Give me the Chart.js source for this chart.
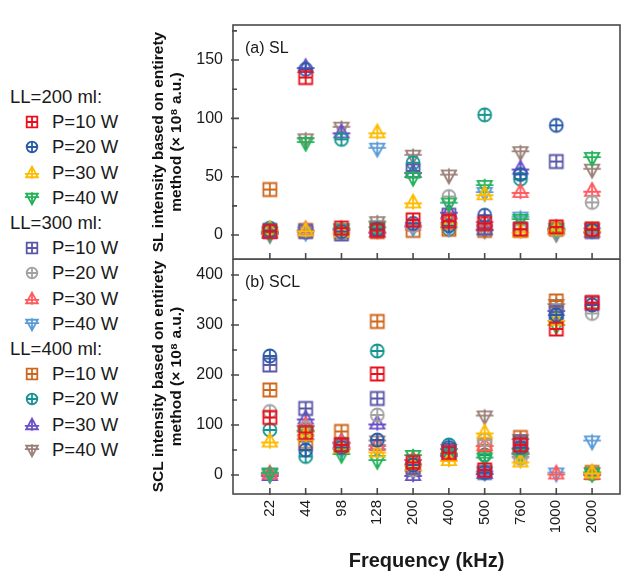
<!DOCTYPE html>
<html>
<head>
<meta charset="utf-8">
<script src="https://cdn.jsdelivr.net/npm/chart.js@4.4.1/dist/chart.umd.min.js"></script>
<style>
  body { margin: 0; background: #fff; width: 621px; height: 573px; position: relative; overflow: hidden;
         font-family: "Liberation Sans", Arial, sans-serif; color: #1a1a1a; }
  #chartSL { position: absolute; left: 149px; top: 0; }
  #chartSCL { position: absolute; left: 149px; top: 259px; }
  .lg { position: absolute; font-size: 18.5px; line-height: 22px; white-space: nowrap; }
  #legend canvas { position: absolute; }
</style>
</head>
<body>
<div id="legend"></div>
<canvas id="chartSL" width="472" height="260"></canvas>
<canvas id="chartSCL" width="472" height="314"></canvas>
<script>
var freqLabels = ['22', '44', '98', '128', '200', '400', '500', '760', '1000', '2000'];
var liquidLevels = ['LL=200 ml:', 'LL=300 ml:', 'LL=400 ml:'];
var powers = ['P=10 W', 'P=20 W', 'P=30 W', 'P=40 W'];

// SL intensity (x 10^8 a.u.)
var slL200P10 = [3, 135, 6, 4, 13, 12, 10, 5, 7, 5];
var slL200P20 = [4, 142, 3, 5, 10, 8, 17, 52, 94, 4];
var slL200P30 = [5, 4, 3, 88, 28, 10, 35, 3, 5, 4];
var slL200P40 = [2, 79, 5, 6, 49, 27, 42, 13, 5, 66];
var slL300P10 = [4, 3, 1, 5, 55, 17, 6, 5, 63, 3];
var slL300P20 = [3, 4, 2, 7, 8, 33, 6, 4, 4, 28];
var slL300P30 = [3, 5, 5, 3, 9, 15, 12, 37, 6, 38];
var slL300P40 = [2, 2, 4, 74, 6, 6, 36, 15, 3, 5];
var slL400P10 = [39, 4, 3, 3, 4, 5, 4, 4, 5, 5];
var slL400P20 = [6, 3, 82, 4, 62, 5, 103, 48, 5, 4];
var slL400P30 = [2, 144, 88, 3, 54, 20, 5, 57, 5, 3];
var slL400P40 = [0, 82, 92, 11, 68, 51, 4, 71, 1, 56];

// SCL intensity (x 10^8 a.u.)
var sclL200P10 = [115, 85, 60, 202, 25, 45, 10, 60, 292, 345];
var sclL200P20 = [238, 50, 55, 70, 20, 55, 5, 55, 320, 340];
var sclL200P30 = [67, 80, 55, 47, 20, 30, 85, 27, 310, 5];
var sclL200P40 = [3, 85, 40, 28, 38, 40, 33, 40, 298, 3];
var sclL300P10 = [220, 133, 60, 153, 15, 50, 5, 65, 325, 343];
var sclL300P20 = [127, 95, 55, 120, 10, 45, 70, 33, 330, 323];
var sclL300P30 = [3, 100, 65, 60, 32, 45, 60, 45, 3, 3];
var sclL300P40 = [2, 70, 50, 50, 20, 50, 5, 35, 3, 67];
var sclL400P10 = [170, 67, 87, 307, 15, 45, 60, 75, 348, 5];
var sclL400P20 = [90, 37, 60, 248, 25, 60, 40, 50, 315, 3];
var sclL400P30 = [0, 113, 67, 103, 0, 40, 4, 55, 330, 2];
var sclL400P40 = [0, 87, 53, 67, 7, 50, 117, 70, 340, 3];

var shapes = ['square', 'circle', 'triUp', 'triDown'];
var colors = [
    ['#e8101a', '#2a5ba8', '#ffbb00', '#22b35a'],
    ['#5a57a8', '#a2a2a2', '#ff5a5f', '#5b9bd5'],
    ['#d0661a', '#15958f', '#6a50c8', '#9b8078']
];
var slSeries = [slL200P10, slL200P20, slL200P30, slL200P40, slL300P10, slL300P20,
    slL300P30, slL300P40, slL400P10, slL400P20, slL400P30, slL400P40];
var sclSeries = [sclL200P10, sclL200P20, sclL200P30, sclL200P40, sclL300P10, sclL300P20,
    sclL300P30, sclL300P40, sclL400P10, sclL400P20, sclL400P30, sclL400P40];

// marker: outline shape with a cross through it
function drawMarker(ctx, shape, color, cx, cy, s) {
    ctx.save();
    ctx.strokeStyle = color;
    ctx.lineWidth = 1.8;
    ctx.beginPath();
    if (shape == 'square') {
        ctx.rect(cx - s, cy - s, 2 * s, 2 * s);
        ctx.moveTo(cx, cy - s); ctx.lineTo(cx, cy + s);
        ctx.moveTo(cx - s, cy); ctx.lineTo(cx + s, cy);
    } else if (shape == 'circle') {
        ctx.arc(cx, cy, s, 0, Math.PI * 2);
        ctx.moveTo(cx, cy - s); ctx.lineTo(cx, cy + s);
        ctx.moveTo(cx - s, cy); ctx.lineTo(cx + s, cy);
    } else if (shape == 'triUp') {
        ctx.moveTo(cx, cy - 1.2 * s);
        ctx.lineTo(cx + 1.1 * s, cy + 0.8 * s);
        ctx.lineTo(cx - 1.1 * s, cy + 0.8 * s);
        ctx.closePath();
        ctx.moveTo(cx, cy - 1.2 * s); ctx.lineTo(cx, cy + 1.1 * s);
        ctx.moveTo(cx - 1.35 * s, cy + 0.15 * s); ctx.lineTo(cx + 1.35 * s, cy + 0.15 * s);
    } else {
        ctx.moveTo(cx - 1.1 * s, cy - 0.8 * s);
        ctx.lineTo(cx + 1.1 * s, cy - 0.8 * s);
        ctx.lineTo(cx, cy + 1.2 * s);
        ctx.closePath();
        ctx.moveTo(cx, cy - 1.1 * s); ctx.lineTo(cx, cy + 1.2 * s);
        ctx.moveTo(cx - 1.35 * s, cy - 0.15 * s); ctx.lineTo(cx + 1.35 * s, cy - 0.15 * s);
    }
    ctx.stroke();
    ctx.restore();
}

function markerImage(shape, color) {
    var c = document.createElement('canvas');
    c.width = 24; c.height = 24;
    drawMarker(c.getContext('2d'), shape, color, 12, 12, 6.5);
    return c;
}

// legend on the left
var legend = document.getElementById('legend');
var rowY = 97, rowH = 25.2;
liquidLevels.forEach(function (ll, g) {
    var hd = document.createElement('div');
    hd.className = 'lg';
    hd.style.left = '10px';
    hd.style.top = (rowY - 11) + 'px';
    hd.textContent = ll;
    legend.appendChild(hd);
    rowY += rowH;
    powers.forEach(function (p, k) {
        var c = document.createElement('canvas');
        c.width = 22; c.height = 22;
        c.style.left = '21px';
        c.style.top = (rowY - 11) + 'px';
        drawMarker(c.getContext('2d'), shapes[k], colors[g][k], 11, 11, 5.3);
        legend.appendChild(c);
        var t = document.createElement('div');
        t.className = 'lg';
        t.style.left = '52px';
        t.style.top = (rowY - 11) + 'px';
        t.textContent = p;
        legend.appendChild(t);
        rowY += rowH;
    });
});

function buildDatasets(seriesList) {
    var sets = [];
    seriesList.forEach(function (vals, i) {
        var g = Math.floor(i / 4), k = i % 4;
        sets.push({
            label: liquidLevels[g] + ' ' + powers[k],
            data: vals.map(function (v, j) { return { x: j, y: v }; }),
            pointStyle: markerImage(shapes[k], colors[g][k]),
            pointRadius: 7,
            showLine: false
        });
    });
    return sets;
}

// frame, inward ticks and panel tag
function framePlugin(tag, major, minor) {
    return {
        id: 'frame',
        afterDraw: function (chart) {
            var ctx = chart.ctx, a = chart.chartArea;
            var xs = chart.scales.x, ys = chart.scales.y;
            ctx.save();
            ctx.strokeStyle = '#4a4a4a';
            ctx.lineWidth = 1.6;
            ctx.strokeRect(a.left, a.top, a.right - a.left, a.bottom - a.top);
            ctx.beginPath();
            major.forEach(function (v) {
                var y = ys.getPixelForValue(v);
                ctx.moveTo(a.left - 2, y); ctx.lineTo(a.left + 6, y);
            });
            minor.forEach(function (v) {
                var y = ys.getPixelForValue(v);
                ctx.moveTo(a.left - 1, y); ctx.lineTo(a.left + 4, y);
            });
            freqLabels.forEach(function (f, i) {
                var x = xs.getPixelForValue(i);
                ctx.moveTo(x, a.bottom + 1); ctx.lineTo(x, a.bottom - 6);
            });
            ctx.stroke();
            ctx.fillStyle = '#1a1a1a';
            ctx.font = '16px "Liberation Sans", Arial, sans-serif';
            ctx.textBaseline = 'middle';
            ctx.fillText(tag, a.left + 12, a.top + 24);
            ctx.restore();
        }
    };
}

function noEdgePadding(s) {
    s.paddingTop = 0; s.paddingBottom = 0;
    s.paddingLeft = 0; s.paddingRight = 0;
}

function makeChart(id, seriesList, yMin, yMax, major, minor, title, tag, showX) {
    return new Chart(document.getElementById(id), {
        type: 'scatter',
        data: { datasets: buildDatasets(seriesList) },
        options: {
            responsive: false,
            devicePixelRatio: 1,
            animation: false,
            events: [],
            layout: { autoPadding: false, padding: { top: showX ? 0 : 25, right: 1, bottom: showX ? 0 : 1, left: 0 } },
            plugins: { legend: { display: false }, tooltip: { enabled: false } },
            scales: {
                x: {
                    type: 'linear',
                    min: -1.03,
                    max: 9.78,
                    display: showX,
                    afterBuildTicks: function (s) {
                        s.ticks = freqLabels.map(function (f, i) { return { value: i }; });
                    },
                    afterFit: function (s) { noEdgePadding(s); if (showX) s.height = 79; },
                    grid: { display: false, drawTicks: false },
                    border: { display: false },
                    ticks: {
                        autoSkip: false,
                        minRotation: 90,
                        maxRotation: 90,
                        padding: 6,
                        color: '#1a1a1a',
                        font: { size: 15, family: '"Liberation Sans", Arial, sans-serif' },
                        callback: function (v) { return freqLabels[v]; }
                    },
                    title: {
                        display: true,
                        text: 'Frequency (kHz)',
                        color: '#1a1a1a',
                        padding: { top: 2, bottom: 0 },
                        font: { size: 20, weight: 'bold', family: '"Liberation Sans", Arial, sans-serif' }
                    }
                },
                y: {
                    min: yMin,
                    max: yMax,
                    afterBuildTicks: function (s) {
                        s.ticks = major.map(function (v) { return { value: v }; });
                    },
                    afterFit: function (s) { noEdgePadding(s); s.width = 84; },
                    grid: { display: false, drawTicks: false },
                    border: { display: false },
                    ticks: {
                        padding: 10,
                        color: '#1a1a1a',
                        font: { size: 16, family: '"Liberation Sans", Arial, sans-serif' }
                    },
                    title: {
                        display: true,
                        text: title,
                        color: '#111',
                        padding: 0,
                        font: { size: 15.5, weight: 'bold', family: '"Liberation Sans", Arial, sans-serif', lineHeight: 1.2 }
                    }
                }
            }
        },
        plugins: [framePlugin(tag, major, minor)]
    });
}

makeChart('chartSL', slSeries, -20.5, 180, [0, 50, 100, 150], [25, 75, 125, 175],
    ['SL intensity based on entirety', 'method (\u00d7 10\u2078 a.u.)'], '(a) SL', false);
makeChart('chartSCL', sclSeries, -38, 432, [0, 100, 200, 300, 400], [50, 150, 250, 350],
    ['SCL intensity based on entirety', 'method (\u00d7 10\u2078 a.u.)'], '(b) SCL', true);
</script>
</body>
</html>
